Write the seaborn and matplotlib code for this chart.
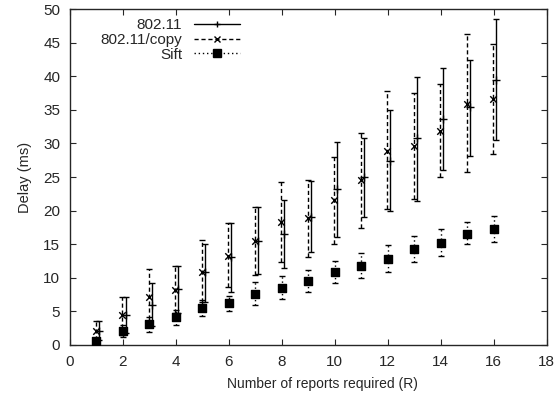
import numpy as np
import matplotlib
matplotlib.use("Agg")
import matplotlib.pyplot as plt
import seaborn as sns
from matplotlib.lines import Line2D

# данные
reports = np.arange(1, 17)

wifi_mean = [2.1, 4.4, 6.0, 8.3, 10.8, 13.1, 15.5, 16.5, 19.1, 23.2, 24.95, 27.4, 30.75, 33.7, 35.4, 39.5]
wifi_lo = [0.7, 1.8, 2.8, 4.7, 6.4, 7.9, 10.5, 11.5, 13.8, 16.1, 19.1, 19.9, 21.5, 26.1, 28.2, 30.5]
wifi_hi = [3.6, 7.1, 9.2, 11.7, 15.0, 18.2, 20.5, 21.6, 24.45, 30.25, 30.85, 35.0, 39.9, 41.3, 42.4, 48.5]

copy_mean = [2.1, 4.4, 7.2, 8.2, 10.8, 13.2, 15.5, 18.25, 18.95, 21.6, 24.55, 28.9, 29.65, 31.9, 35.95, 36.65]
copy_lo = [0.7, 1.5, 2.8, 4.7, 6.4, 8.6, 10.4, 12.3, 13.1, 15.1, 17.45, 20.2, 21.7, 25.05, 25.7, 28.5]
copy_hi = [3.5, 7.2, 11.3, 11.7, 15.7, 18.1, 20.6, 24.2, 24.55, 28.0, 31.6, 37.8, 37.45, 38.8, 46.3, 44.8]

sift_mean = [0.6, 2.1, 3.1, 4.1, 5.5, 6.2, 7.6, 8.5, 9.6, 10.9, 11.8, 12.8, 14.3, 15.2, 16.55, 17.3]
sift_lo = [0.1, 1.2, 2.0, 3.0, 4.3, 5.1, 5.95, 6.9, 7.9, 9.3, 9.9, 10.9, 12.35, 13.2, 15.0, 15.3]
sift_hi = [1.1, 3.0, 4.2, 5.2, 6.7, 7.3, 9.4, 10.2, 11.2, 12.5, 13.7, 14.9, 16.2, 17.3, 18.25, 19.2]

labels = ["802.11", "802.11/copy", "Sift"]

sns.set_style("ticks")
plt.rcParams['font.family'] = ['Liberation Sans', 'DejaVu Sans']

fig = plt.figure(figsize=(5.59, 3.97), dpi=100)
ax = fig.add_axes([0.125, 0.131, 0.853, 0.846])


def draw(x, mean, lo, hi, ls, marker, size):
    mean = np.array(mean)
    err = [mean - np.array(lo), np.array(hi) - mean]
    eb = ax.errorbar(x, mean, yerr=err, fmt='none', ecolor='black', elinewidth=1.0,
                     capsize=2.5, capthick=1.0)
    eb[2][0].set_linestyle(ls)
    sns.scatterplot(x=x, y=mean, marker=marker, color='black', s=size,
                    linewidth=1.0, edgecolor='black', ax=ax, zorder=3)


# Ошибки и маркеры
draw(reports - 0.02, copy_mean, copy_lo, copy_hi, (0, (3, 2)), 'x', 22)
draw(reports + 0.1, wifi_mean, wifi_lo, wifi_hi, '-', '+', 30)
draw(reports, sift_mean, sift_lo, sift_hi, (0, (1, 2)), 's', 40)

ax.set_xlim(0, 18)
ax.set_ylim(0, 50)
ax.set_xticks(range(0, 19, 2))
ax.set_yticks(range(0, 51, 5))
ax.tick_params(direction='in', top=True, right=True, labelsize=11, length=4, width=0.8)
ax.tick_params(axis='x', pad=7)
ax.tick_params(axis='y', pad=7)
for s in ax.spines.values():
    s.set_linewidth(1.0)
ax.set_xlabel("Number of reports required (R)", fontsize=10, labelpad=6, x=0.529)
ax.set_ylabel("Delay (ms)", fontsize=10.5, labelpad=8)

# Легенда
handles = [
    Line2D([], [], color='black', ls='-', lw=1.0, marker='+', ms=5),
    Line2D([], [], color='black', ls=(0, (3, 2)), lw=1.0, marker='x', ms=4),
    Line2D([], [], color='black', ls=(0, (1, 2)), lw=1.0, marker='s', ms=6),
]
ax.legend(handles, labels, loc='upper left', bbox_to_anchor=(0.035, 1.014), frameon=False,
          markerfirst=False, numpoints=1, fontsize=11, handlelength=3.0,
          labelspacing=0.05, handletextpad=0.8)

fig.savefig("out.png", dpi=100)
